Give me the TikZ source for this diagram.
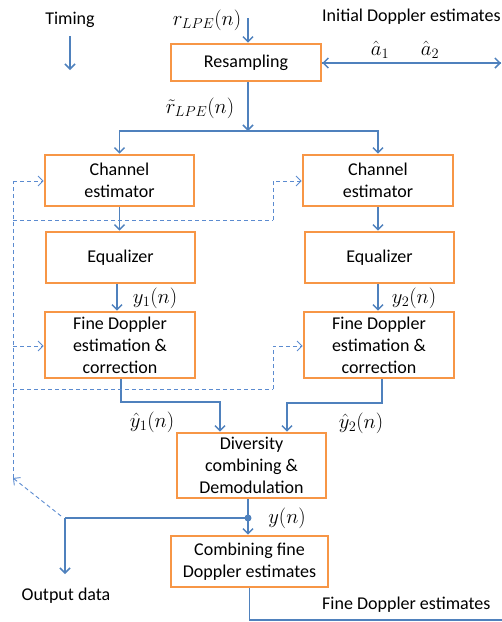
\documentclass[tikz,border=0pt]{standalone}
\usepackage{fontspec}
\setmainfont{Carlito}
\usetikzlibrary{arrows.meta}
\definecolor{lblue}{HTML}{4F81BD}
\definecolor{dblue}{HTML}{5B8BD0}
\definecolor{borange}{HTML}{F79646}
\tikzset{
  box/.style={draw=borange, line width=2.6pt, align=center, inner sep=1pt, font=\fontsize{18}{22}\selectfont},
  arr/.style={draw=lblue, line width=1.5pt, -{Straight Barb[length=5pt,width=10pt]}},
  ln/.style={draw=lblue, line width=1.5pt},
  dsh/.style={draw=dblue, line width=0.9pt, dash pattern=on 4pt off 3pt},
  dsharr/.style={dsh, -{Straight Barb[length=5pt,width=10pt]}},
  lbl/.style={font=\fontsize{18}{22}\selectfont, inner sep=0pt},
  mlbl/.style={font=\fontsize{21}{25}\selectfont, inner sep=0pt},
}
\begin{document}
\begin{tikzpicture}[x=1pt,y=-1pt]
\useasboundingbox (0,0) rectangle (502,622);
% boxes
\node[box, minimum width=150pt, minimum height=37pt] (res) at (246,62.5) {Resampling};
\node[box, minimum width=149pt, minimum height=51pt] (ce1) at (119.5,180.5) {Channel\\estimator};
\node[box, minimum width=150pt, minimum height=51pt] (ce2) at (378,180.5) {Channel\\estimator};
\node[box, minimum width=149pt, minimum height=51pt] (eq1) at (120.5,257.5) {Equalizer};
\node[box, minimum width=149pt, minimum height=51pt] (eq2) at (379.5,257.5) {Equalizer};
\node[box, minimum width=150pt, minimum height=66pt] (fd1) at (120,345) {Fine Doppler\\estimation \&\\correction};
\node[box, minimum width=150pt, minimum height=66pt] (fd2) at (379,345) {Fine Doppler\\estimation \&\\correction};
\node[box, minimum width=149pt, minimum height=65pt] (div) at (251.5,465.5) {Diversity\\combining \&\\Demodulation};
\node[box, minimum width=157pt, minimum height=51pt] (comb) at (249.5,561.5) {Combining fine\\Doppler estimates};
% labels
\node[lbl] (timing) at (70,20) {Timing};
\node[mlbl] (rin) at (207,20) {$r_{LPE}(n)$};
\node[lbl, anchor=west] (ide) at (322,17) {Initial Doppler estimates};
\node[mlbl] (a1) at (380,50) {$\hat{a}_1$};
\node[mlbl] (a2) at (430,50) {$\hat{a}_2$};
\node[mlbl] (rt) at (200,108) {$\tilde{r}_{LPE}(n)$};
\node[mlbl] (y1) at (155,298) {$y_1(n)$};
\node[mlbl] (y2) at (414,298) {$y_2(n)$};
\node[mlbl] (yh1) at (152,422) {$\hat{y}_1(n)$};
\node[mlbl] (yh2) at (361,423) {$\hat{y}_2(n)$};
\node[mlbl] (yn) at (287,518) {$y(n)$};
\node[lbl] (od) at (66,596) {Output data};
\node[lbl, anchor=west] (fde) at (322,605) {Fine Doppler estimates};
% coordinates
\coordinate (t1) at (70,36);
\coordinate (t2) at (70,70);
\coordinate (inx) at (248,18);
\coordinate (split) at (248,131);
\coordinate (dopp) at (501,63);
\coordinate (j1) at (220,402);
\coordinate (j2) at (287,403);
\coordinate (dot) at (248,518);
\coordinate (ods) at (65,518);
\coordinate (odend) at (65,574);
\coordinate (fdout) at (502,620);
\coordinate (fbs) at (61,516);
\coordinate (fbt) at (13,478);
\coordinate (fbtop) at (13,181);
\coordinate (h1) at (13,220);
\coordinate (h1r) at (273,220);
\coordinate (h2) at (13,389);
\coordinate (h2r) at (273,389);
% connectors
\draw[arr] (t1) -- (t2);
\draw[arr] (inx) -- (inx |- res.north);
\draw[arr] (inx |- res.south) -- (split);
\draw[arr] (dopp) -- (res.east |- dopp);
\draw[arr] (res.east |- dopp) -- (dopp);
\draw[arr] (split) -| (ce1.north);
\draw[arr] (split) -| (ce2.north);
\draw[arr] (ce1.south) -- (ce1.south |- eq1.north);
\draw[arr] (ce2.south) -- (ce2.south |- eq2.north);
\draw[arr] (117,0 |- eq1.south) -- (117,0 |- fd1.north);
\draw[arr] (378,0 |- eq2.south) -- (378,0 |- fd2.north);
\draw[arr] (121,0 |- fd1.south) |- (j1) -- (j1 |- div.north);
\draw[arr] (382,0 |- fd2.south) |- (j2) -- (j2 |- div.north);
\draw[ln] (dot |- div.south) -- (dot);
\draw[arr] (dot) -- (dot |- comb.north);
\fill[lblue] (dot) circle (3.5pt);
\draw[ln] (dot) -- (ods);
\draw[arr] (ods) -- (odend);
\draw[ln] (comb.south) |- (fdout);
% feedback dashed
\draw[dsharr] (fbs) -- (fbt);
\draw[dsh] (fbt) -- (fbtop);
\draw[dsharr] (fbtop) -- (ce1.west |- fbtop);
\draw[dsharr] (13,346) -- (fd1.west |- 0,346);
\draw[dsh] (h1) -- (h1r);
\draw[dsharr] (h1r) |- (ce2.west |- fbtop);
\draw[dsh] (h2) -- (h2r);
\draw[dsharr] (h2r) |- (fd2.west |- 0,346);
\end{tikzpicture}
\end{document}
